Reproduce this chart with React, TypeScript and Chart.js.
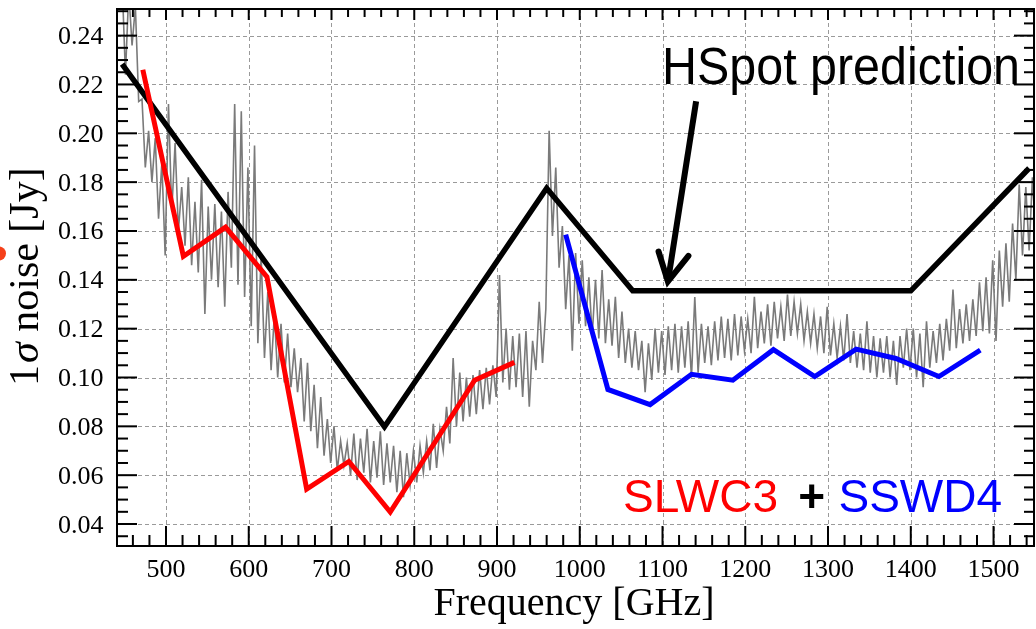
import React, { useEffect, useRef } from "react";
import { Chart, registerables } from "chart.js";

Chart.register(...registerables);

// ---------- axes ----------
const X_MIN = 440.8;
const X_MAX = 1548.9;
const Y_MIN = 0.031;
const Y_MAX = 0.2509;
const xMajorTicks = [500, 600, 700, 800, 900, 1000, 1100, 1200, 1300, 1400, 1500];
const xTickLabels = ["500", "600", "700", "800", "900", "1000", "1100", "1200", "1300", "1400", "1500"];
const yMajorTicks = [0.04, 0.06, 0.08, 0.1, 0.12, 0.14, 0.16, 0.18, 0.2, 0.22, 0.24];
const yTickLabels = ["0.04", "0.06", "0.08", "0.10", "0.12", "0.14", "0.16", "0.18", "0.20", "0.22", "0.24"];
const xTitle = "Frequency [GHz]";
const yTitleParts = ["1", "\u03c3", " noise [Jy]"];

// ---------- series ----------
const hspotFreq = [447, 764, 960, 1064, 1400, 1543];
const hspotNoise = [0.2283, 0.0798, 0.1775, 0.1355, 0.1355, 0.1857];

const slwFreq = [472, 521, 572, 622, 670, 721, 771, 873, 921];
const slwNoise = [0.226, 0.1496, 0.1616, 0.1412, 0.0543, 0.0656, 0.0449, 0.0989, 0.1062];

const sswFreq = [983, 1034, 1085, 1135, 1185, 1234, 1284, 1334, 1382, 1434, 1484];
const sswNoise = [0.1585, 0.0951, 0.0889, 0.1013, 0.0989, 0.1114, 0.1004, 0.1116, 0.1078, 0.1004, 0.1112];

const spectrumFreq = [
  447, 451, 455, 459, 463, 467, 471, 475, 479, 483,
  487, 491, 495, 499, 503, 507, 511, 515, 519, 523,
  527, 531, 535, 539, 543, 547, 551, 555, 559, 563,
  567, 571, 575, 579, 583, 587, 591, 595, 599, 603,
  607, 611, 615, 619, 623, 627, 631, 635, 639, 643,
  647, 651, 655, 659, 663, 667, 671, 675, 679, 683,
  687, 691, 695, 699, 703, 707, 711, 715, 719, 723,
  727, 731, 735, 739, 743, 747, 751, 755, 759, 763,
  767, 771, 775, 779, 783, 787, 791, 795, 799, 803,
  807, 811, 815, 819, 823, 827, 831, 835, 839, 843,
  847, 851, 855, 859, 863, 867, 871, 875, 879, 883,
  887, 891, 895, 899, 903, 907, 911, 915, 919, 923,
  927, 931, 935, 939, 943, 947, 951, 955, 959, 963,
  967, 971, 975, 979, 983, 987, 991, 995, 999, 1003,
  1007, 1011, 1015, 1019, 1023, 1027, 1031, 1035, 1039, 1043,
  1047, 1051, 1055, 1059, 1063, 1067, 1071, 1075, 1079, 1083,
  1087, 1091, 1095, 1099, 1103, 1107, 1111, 1115, 1119, 1123,
  1127, 1131, 1135, 1139, 1143, 1147, 1151, 1155, 1159, 1163,
  1167, 1171, 1175, 1179, 1183, 1187, 1191, 1195, 1199, 1203,
  1207, 1211, 1215, 1219, 1223, 1227, 1231, 1235, 1239, 1243,
  1247, 1251, 1255, 1259, 1263, 1267, 1271, 1275, 1279, 1283,
  1287, 1291, 1295, 1299, 1303, 1307, 1311, 1315, 1319, 1323,
  1327, 1331, 1335, 1339, 1343, 1347, 1351, 1355, 1359, 1363,
  1367, 1371, 1375, 1379, 1383, 1387, 1391, 1395, 1399, 1403,
  1407, 1411, 1415, 1419, 1423, 1427, 1431, 1435, 1439, 1443,
  1447, 1451, 1455, 1459, 1463, 1467, 1471, 1475, 1479, 1483,
  1487, 1491, 1495, 1499, 1503, 1507, 1511, 1515, 1519, 1523,
  1527, 1531, 1535, 1539, 1543, 1547, 1551,
];
const spectrumNoise = [
  0.262, 0.224, 0.258, 0.236, 0.252, 0.213, 0.214, 0.186, 0.201, 0.180,
  0.198, 0.165, 0.188, 0.150, 0.212, 0.168, 0.196, 0.160, 0.178, 0.154,
  0.182, 0.146, 0.172, 0.143, 0.181, 0.126, 0.170, 0.140, 0.171, 0.137,
  0.168, 0.129, 0.176, 0.145, 0.212, 0.138, 0.209, 0.133, 0.186, 0.121,
  0.195, 0.114, 0.150, 0.108, 0.135, 0.103, 0.126, 0.100, 0.122, 0.098,
  0.118, 0.096, 0.112, 0.094, 0.108, 0.082, 0.106, 0.078, 0.097, 0.071,
  0.092, 0.068, 0.083, 0.065, 0.080, 0.062, 0.074, 0.064, 0.073, 0.060,
  0.077, 0.058, 0.075, 0.061, 0.079, 0.057, 0.074, 0.059, 0.078, 0.056,
  0.073, 0.057, 0.072, 0.053, 0.070, 0.051, 0.069, 0.056, 0.070, 0.057,
  0.072, 0.061, 0.074, 0.062, 0.081, 0.063, 0.079, 0.070, 0.088, 0.073,
  0.108, 0.080, 0.102, 0.082, 0.100, 0.084, 0.101, 0.085, 0.103, 0.087,
  0.104, 0.089, 0.105, 0.092, 0.142, 0.098, 0.120, 0.095, 0.117, 0.096,
  0.118, 0.092, 0.119, 0.088, 0.115, 0.103, 0.131, 0.106, 0.128, 0.201,
  0.158, 0.186, 0.145, 0.162, 0.128, 0.150, 0.111, 0.151, 0.122, 0.148,
  0.121, 0.141, 0.117, 0.140, 0.116, 0.144, 0.114, 0.132, 0.113, 0.133,
  0.108, 0.127, 0.106, 0.120, 0.104, 0.119, 0.103, 0.115, 0.094, 0.114,
  0.099, 0.120, 0.102, 0.119, 0.101, 0.121, 0.103, 0.122, 0.102, 0.121,
  0.104, 0.123, 0.100, 0.133, 0.102, 0.122, 0.106, 0.121, 0.105, 0.123,
  0.107, 0.125, 0.108, 0.124, 0.107, 0.126, 0.109, 0.125, 0.111, 0.124,
  0.110, 0.133, 0.112, 0.127, 0.114, 0.130, 0.113, 0.131, 0.116, 0.129,
  0.115, 0.134, 0.117, 0.131, 0.118, 0.130, 0.115, 0.127, 0.114, 0.126,
  0.112, 0.125, 0.110, 0.129, 0.109, 0.122, 0.108, 0.121, 0.107, 0.126,
  0.106, 0.119, 0.104, 0.118, 0.103, 0.123, 0.102, 0.117, 0.100, 0.116,
  0.102, 0.117, 0.100, 0.115, 0.097, 0.117, 0.104, 0.120, 0.103, 0.120,
  0.100, 0.118, 0.096, 0.123, 0.104, 0.119, 0.106, 0.122, 0.107, 0.124,
  0.111, 0.136, 0.112, 0.128, 0.114, 0.130, 0.115, 0.132, 0.117, 0.139,
  0.119, 0.141, 0.118, 0.148, 0.115, 0.152, 0.129, 0.155, 0.131, 0.163,
  0.140, 0.179, 0.150, 0.178, 0.152, 0.182, 0.158,
];

// ---------- annotation (data coords) ----------
const arrowShaft = [[1140.6, 0.2131], [1106.5, 0.1393]];
const arrowHead = [[1095.2, 0.1516], [1106.5, 0.1393], [1131.3, 0.1498]];
const hspotLabel = "HSpot prediction";
const legendParts = ["SLWC3", "+", "SSWD4"];

const SERIF = '"Liberation Serif", "Times New Roman", serif';
const SANS = '"Liberation Sans", Arial, Helvetica, sans-serif';

function seg(ctx: CanvasRenderingContext2D, x1: number, y1: number, x2: number, y2: number) {
  ctx.beginPath();
  ctx.moveTo(x1, y1);
  ctx.lineTo(x2, y2);
  ctx.stroke();
}

const overlayPlugin = {
  id: "overlay",
  beforeDatasetsDraw(chart: any) {
    const { ctx, chartArea: a, scales } = chart;
    const xs = scales.x;
    const ys = scales.y;
    ctx.save();
    ctx.strokeStyle = "#9a9a9a";
    ctx.lineWidth = 1;
    ctx.setLineDash([4, 3]);
    xMajorTicks.forEach((v) => {
      const p = Math.round(xs.getPixelForValue(v)) + 0.5;
      seg(ctx, p, a.top, p, a.bottom);
    });
    yMajorTicks.forEach((v) => {
      const p = Math.round(ys.getPixelForValue(v)) + 0.5;
      seg(ctx, a.left, p, a.right, p);
    });
    ctx.restore();
  },
  afterDatasetsDraw(chart: any) {
    const { ctx, chartArea: a, scales } = chart;
    const xs = scales.x;
    const ys = scales.y;
    ctx.save();
    ctx.setLineDash([]);
    ctx.strokeStyle = "#000";
    ctx.fillStyle = "#000";

    // arrow
    ctx.lineWidth = 6;
    ctx.lineJoin = "miter";
    ctx.lineCap = "butt";
    seg(
      ctx,
      xs.getPixelForValue(arrowShaft[0][0]),
      ys.getPixelForValue(arrowShaft[0][1]),
      xs.getPixelForValue(arrowShaft[1][0]),
      ys.getPixelForValue(arrowShaft[1][1])
    );
    ctx.lineCap = "round";
    ctx.beginPath();
    arrowHead.forEach((p, i) => {
      const px = xs.getPixelForValue(p[0]);
      const py = ys.getPixelForValue(p[1]);
      if (i === 0) ctx.moveTo(px, py);
      else ctx.lineTo(px, py);
    });
    ctx.stroke();
    ctx.lineCap = "butt";

    // frame
    ctx.lineWidth = 2;
    ctx.strokeRect(a.left, a.top, a.right - a.left, a.bottom - a.top);

    // x ticks (inward)
    for (let v = 440; v <= 1549; v += 20) {
      if (v < X_MIN || v > X_MAX) continue;
      const major = v % 100 === 0;
      const p = xs.getPixelForValue(v);
      seg(ctx, p, a.bottom, p, a.bottom - (major ? 20 : 11));
      seg(ctx, p, a.top, p, a.top + (major ? 11 : 8));
    }
    // y ticks (inward)
    for (let k = 6; k <= 51; k++) {
      const v = k * 0.005;
      if (v < Y_MIN || v > Y_MAX) continue;
      const major = k % 4 === 0;
      const p = ys.getPixelForValue(v);
      seg(ctx, a.left, p, a.left + (major ? 20 : 11), p);
      seg(ctx, a.right, p, a.right - (major ? 20 : 10), p);
    }

    // tick labels
    ctx.font = "26px " + SERIF;
    ctx.textBaseline = "alphabetic";
    ctx.textAlign = "center";
    xMajorTicks.forEach((v, i) => {
      ctx.fillText(xTickLabels[i], xs.getPixelForValue(v), 577);
    });
    ctx.textAlign = "right";
    yMajorTicks.forEach((v, i) => {
      ctx.fillText(yTickLabels[i], 103.5, ys.getPixelForValue(v) + 8.5);
    });

    // x title
    ctx.font = "40px " + SERIF;
    ctx.textAlign = "center";
    ctx.fillText(xTitle, 574, 615);

    // y title
    ctx.save();
    ctx.translate(38, 386);
    ctx.rotate(-Math.PI / 2);
    ctx.textAlign = "left";
    let tx = 0;
    ctx.font = "42px " + SERIF;
    ctx.fillText(yTitleParts[0], tx, 0);
    tx += ctx.measureText(yTitleParts[0]).width + 2;
    ctx.font = "italic 42px " + SERIF;
    ctx.fillText(yTitleParts[1], tx, 0);
    tx += ctx.measureText(yTitleParts[1]).width;
    ctx.font = "42px " + SERIF;
    ctx.fillText(yTitleParts[2], tx, 0);
    ctx.restore();

    // HSpot label
    ctx.save();
    ctx.font = "51px " + SANS;
    ctx.textAlign = "left";
    const w = ctx.measureText(hspotLabel).width;
    const sx = 358 / w;
    ctx.translate(662, 83.5);
    ctx.scale(sx, 1);
    ctx.fillText(hspotLabel, 0, 0);
    ctx.restore();

    // legend text
    ctx.font = "46px " + SANS;
    ctx.textAlign = "left";
    ctx.fillStyle = "#ff0000";
    ctx.fillText(legendParts[0], 623, 512);
    ctx.fillStyle = "#0000ff";
    ctx.fillText(legendParts[2], 838.5, 512);
    ctx.fillStyle = "#000";
    ctx.font = "bold 46px " + SANS;
    ctx.textAlign = "center";
    ctx.fillText(legendParts[1], 811.7, 512);

    // stray orange dot at the left edge
    ctx.fillStyle = "#f5401a";
    ctx.beginPath();
    ctx.arc(-1, 253.5, 7, 0, Math.PI * 2);
    ctx.fill();

    ctx.restore();
  },
};

function pts(xs: number[], ys: number[]) {
  return xs.map((x, i) => ({ x, y: ys[i] }));
}

export default function App() {
  const ref = useRef<HTMLCanvasElement>(null);
  useEffect(() => {
    const canvas = ref.current;
    if (!canvas) return;
    const chart = new Chart(canvas, {
      type: "line",
      data: {
        datasets: [
          {
            label: "spectrum",
            data: pts(spectrumFreq, spectrumNoise),
            borderColor: "#7a7a7a",
            borderWidth: 1.6,
            pointRadius: 0,
            tension: 0,
            fill: false,
            order: 4,
          },
          {
            label: "HSpot prediction",
            data: pts(hspotFreq, hspotNoise),
            borderColor: "#000000",
            borderWidth: 5.5,
            pointRadius: 0,
            tension: 0,
            fill: false,
            order: 3,
          },
          {
            label: "SLWC3",
            data: pts(slwFreq, slwNoise),
            borderColor: "#ff0000",
            borderWidth: 5,
            pointRadius: 0,
            tension: 0,
            fill: false,
            order: 2,
          },
          {
            label: "SSWD4",
            data: pts(sswFreq, sswNoise),
            borderColor: "#0000ff",
            borderWidth: 5,
            pointRadius: 0,
            tension: 0,
            fill: false,
            order: 1,
          },
        ],
      },
      options: {
        responsive: false,
        animation: false,
        devicePixelRatio: 1,
        events: [],
        layout: { padding: { top: 9, right: 2, left: 0, bottom: 0 } },
        plugins: { legend: { display: false }, tooltip: { enabled: false }, title: { display: false } },
        scales: {
          x: {
            type: "linear",
            min: X_MIN,
            max: X_MAX,
            ticks: { display: false },
            grid: { display: false },
            border: { display: false },
            afterFit: (s: any) => {
              s.height = 83;
            },
          },
          y: {
            type: "linear",
            min: Y_MIN,
            max: Y_MAX,
            ticks: { display: false },
            grid: { display: false },
            border: { display: false },
            afterFit: (s: any) => {
              s.width = 117;
            },
          },
        },
      },
      plugins: [overlayPlugin],
    } as any);
    return () => chart.destroy();
  }, []);
  return (
    <div style={{ position: "fixed", left: 0, top: 0, width: 1036, height: 629, background: "#fff" }}>
      <canvas ref={ref} width={1036} height={629} style={{ display: "block" }} />
    </div>
  );
}
